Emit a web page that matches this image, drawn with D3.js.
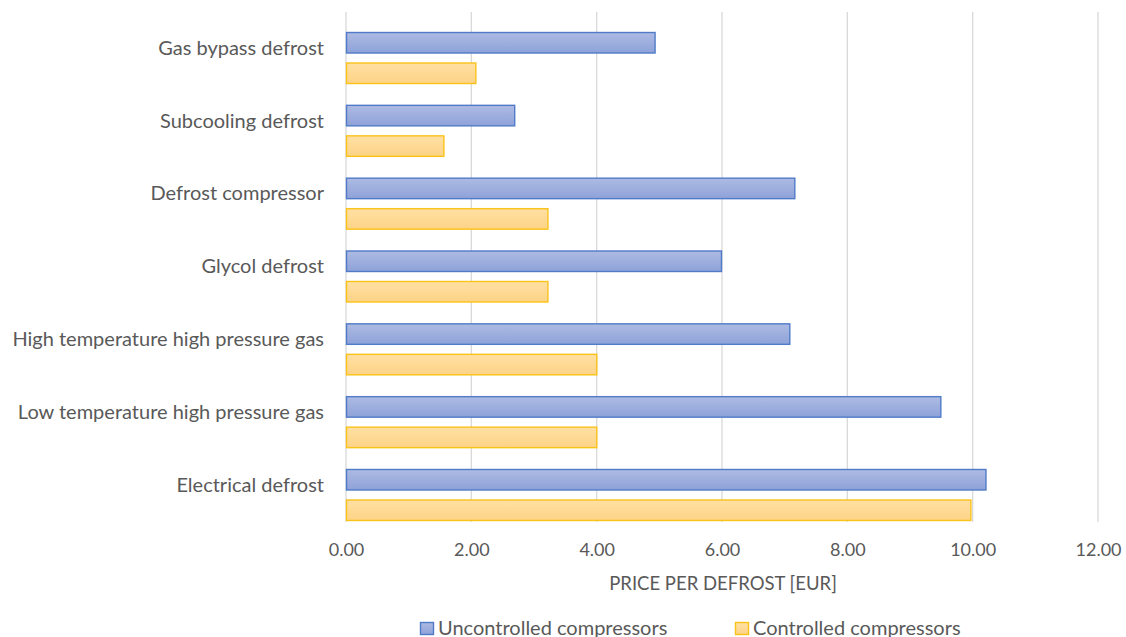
<!DOCTYPE html>
<html><head><meta charset="utf-8">
<script src="https://cdn.jsdelivr.net/npm/d3@7"></script>
<style>
html,body{margin:0;padding:0;background:#fff;}
svg text{font-family:Lato, "Open Sans", sans-serif;fill:#595959;}
</style></head>
<body><svg id="c" width="1126" height="637"></svg>
<script>
const categories = ["Gas bypass defrost","Subcooling defrost","Defrost compressor","Glycol defrost","High temperature high pressure gas","Low temperature high pressure gas","Electrical defrost"];
const uncontrolled = [4.94, 2.70, 7.17, 6.00, 7.09, 9.50, 10.22];
const controlled = [2.08, 1.57, 3.23, 3.23, 4.01, 4.01, 9.98];
const seriesNames = ["Uncontrolled compressors","Controlled compressors"];
const xTicks = [0,2,4,6,8,10,12];
const axisTitle = "PRICE PER DEFROST [EUR]";

const svg = d3.select("#c");
const x = d3.scaleLinear().domain([0,12]).range([346,1098]);
const y = d3.scaleBand().domain(categories).range([21.6,531.4]).paddingInner(0.286).paddingOuter(0.143);
const ys = d3.scaleBand().domain([0,1]).range([0,y.bandwidth()]).paddingInner(0.295).paddingOuter(0);

const defs = svg.append("defs");
function grad(id,c1,c2){
  const g = defs.append("linearGradient").attr("id",id).attr("x1",0).attr("x2",0).attr("y1",0).attr("y2",1);
  g.append("stop").attr("offset","0%").attr("stop-color",c1);
  g.append("stop").attr("offset","100%").attr("stop-color",c2);
}
grad("gb","#adbbe3","#8ea2d9");
grad("gy","#ffe0a3","#fdd386");
const fills=["url(#gb)","url(#gy)"], strokes=["#4f7bc8","#fbc21a"];

// gridlines
svg.append("g").selectAll("line").data(xTicks).join("line")
  .attr("x1",d=>x(d)).attr("x2",d=>x(d)).attr("y1",12).attr("y2",522)
  .attr("stroke","#d9d9d9").attr("stroke-width",1.3);

const data = [uncontrolled, controlled];
data.forEach((vals,si)=>{
  svg.append("g").selectAll("rect").data(categories).join("rect")
    .attr("x",x(0)+0.5).attr("y",(c)=>y(c)+ys(si)+0.5)
    .attr("width",(c,i)=>x(vals[i])-x(0)-1).attr("height",ys.bandwidth()-1)
    .attr("fill",fills[si]).attr("stroke",strokes[si]).attr("stroke-width",1.4);
});

// category labels
svg.append("g").selectAll("text").data(categories).join("text")
  .attr("x",324).attr("y",c=>y(c)+ys(0)+ys.bandwidth()/2+12)
  .attr("text-anchor","end").attr("font-size",20).text(d=>d);

// x tick labels
const xa = svg.append("g").attr("transform","translate(0,556)").call(d3.axisBottom(x).tickValues(xTicks).tickFormat(d3.format(".2f")).tickSize(0).tickPadding(0));
xa.select(".domain").remove();
xa.selectAll("text").attr("font-size",18).attr("dy","0").attr("y",0).attr("font-family","Lato, sans-serif").attr("fill","#595959");

svg.append("text").attr("x",723).attr("y",590).attr("text-anchor","middle").attr("font-size",18.5).text(axisTitle);

// legend
const legX=[420,735];
const lg = svg.append("g");
seriesNames.forEach((n,i)=>{
  lg.append("rect").attr("x",legX[i]+0.5).attr("y",622.5).attr("width",13).attr("height",12)
    .attr("fill",fills[i]).attr("stroke",strokes[i]).attr("stroke-width",1.4);
  lg.append("text").attr("x",legX[i]+18).attr("y",635).attr("font-size",20).text(n);
});
</script></body></html>
